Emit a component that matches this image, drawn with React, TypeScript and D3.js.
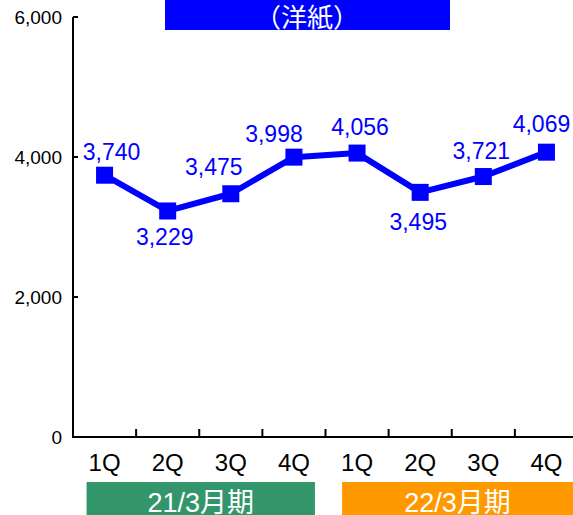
import React from "react";
import * as d3 from "d3";

const categories = ["21-1Q", "21-2Q", "21-3Q", "21-4Q", "22-1Q", "22-2Q", "22-3Q", "22-4Q"];
const quarterLabels = ["1Q", "2Q", "3Q", "4Q", "1Q", "2Q", "3Q", "4Q"];
const values = [3740, 3229, 3475, 3998, 4056, 3495, 3721, 4069];
const yTicks = [0, 2000, 4000, 6000];
const periods = [
  { label: "21/3月期", from: 0, to: 3, color: "#33966b" },
  { label: "22/3月期", from: 4, to: 7, color: "#ff9900" },
];
const title = "（洋紙）";
// label placement per point (style only)
const labelPlace = [
  { dx: 7, dy: -15 },
  { dx: -3, dy: 34 },
  { dx: -17, dy: -19 },
  { dx: -20, dy: -15 },
  { dx: 3, dy: -18 },
  { dx: -2, dy: 38 },
  { dx: -2, dy: -18 },
  { dx: -5, dy: -20 },
];
const bandPad = [
  { l: 18, r: 21 },
  { l: 15, r: 0 },
];

const W = 573;
const H = 515;
const FONT = "'Liberation Sans', Arial, 'Noto Sans CJK JP', sans-serif";
const BLUE = "#0000ff";

export default function App() {
  const x = d3.scaleBand<string>().domain(categories).range([73, 578]).padding(0);
  const y = d3.scaleLinear().domain([0, 6000]).range([437, 17]);
  const cx = (i: number) => (x(categories[i]) as number) + x.bandwidth() / 2;
  const line = d3
    .line<number>()
    .x((_, i) => cx(i))
    .y((d) => y(d));
  const fmt = d3.format(",");
  const ms = 17;

  return (
    <svg
      width={W}
      height={H}
      style={{ position: "absolute", left: 0, top: 0, display: "block" }}
      fontFamily={FONT}
    >
      <rect x={0} y={0} width={W} height={H} fill="#fff" />
      {/* title banner */}
      <rect x={165} y={0} width={285} height={30} fill={BLUE} />
      <text x={307} y={27} textAnchor="middle" fill="#fff" fontSize={26} fontFamily="'Noto Sans CJK JP', sans-serif">
        {title}
      </text>

      {/* y axis */}
      <line x1={73} x2={73} y1={y(6000)} y2={y(0)} stroke="#000" strokeWidth={2} />
      {yTicks.map((t) => (
        <g key={t}>
          <line x1={73} x2={78} y1={y(t)} y2={y(t)} stroke="#000" strokeWidth={2} />
          <text x={62} y={y(t) + 7} textAnchor="end" fontSize={19} fill="#000">
            {fmt(t)}
          </text>
        </g>
      ))}

      {/* x axis */}
      <line x1={72} x2={W} y1={y(0)} y2={y(0)} stroke="#000" strokeWidth={2} />
      {categories.slice(1).map((c) => (
        <line key={c} x1={x(c)} x2={x(c)} y1={y(0)} y2={y(0) - 8} stroke="#000" strokeWidth={2} />
      ))}
      {quarterLabels.map((q, i) => (
        <text key={i} x={cx(i)} y={471} textAnchor="middle" fontSize={24} fill="#000">
          {q}
        </text>
      ))}

      {/* period bands */}
      {periods.map((p, k) => {
        const x0 = cx(p.from) - bandPad[k].l;
        const x1 = p.to === categories.length - 1 ? W : cx(p.to) + bandPad[k].r;
        return (
          <g key={p.label}>
            <rect x={x0} y={482} width={x1 - x0} height={40} fill={p.color} />
            <text x={(x0 + x1) / 2} y={512} textAnchor="middle" fontSize={27} fill="#fff">
              {p.label}
            </text>
          </g>
        );
      })}

      {/* line */}
      <path d={line(values) || ""} fill="none" stroke={BLUE} strokeWidth={6} strokeLinejoin="round" />
      {values.map((v, i) => (
        <rect key={i} x={cx(i) - ms / 2} y={y(v) - ms / 2} width={ms} height={ms} fill={BLUE} />
      ))}
      {values.map((v, i) => (
        <text
          key={"l" + i}
          x={cx(i) + labelPlace[i].dx}
          y={y(v) + labelPlace[i].dy}
          textAnchor="middle"
          fontSize={23}
          fill={BLUE}
        >
          {fmt(v)}
        </text>
      ))}
    </svg>
  );
}
